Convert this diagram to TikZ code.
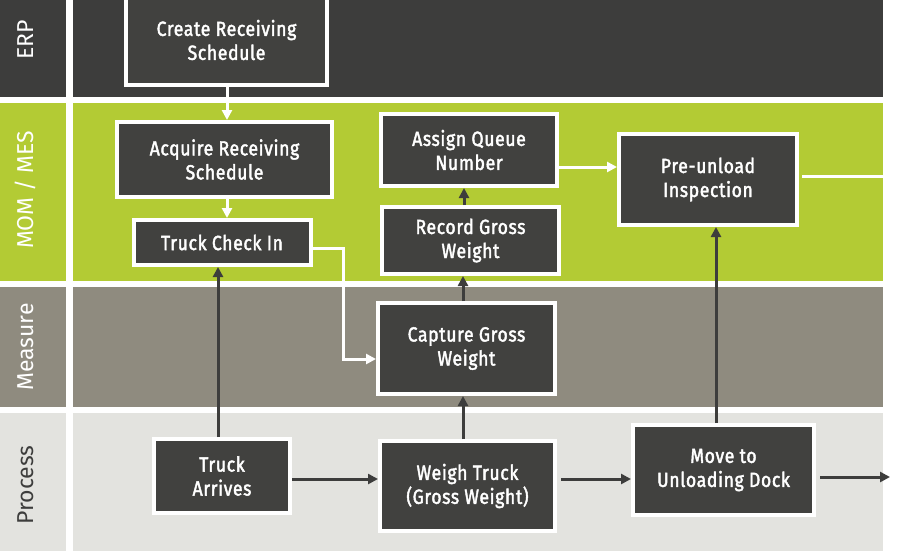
\documentclass[tikz,border=0pt]{standalone}
\usepackage{fontspec}
\setmainfont{Fira Sans}
\newfontfamily\taskfont{Fira Sans}[FakeStretch=0.86, FakeBold=2, LetterSpace=3]
\usetikzlibrary{arrows.meta}
\definecolor{erpdark}{HTML}{3D3D3C}
\definecolor{taskfill}{HTML}{41413F}
\definecolor{mesgreen}{HTML}{B3CB34}
\definecolor{measuregrey}{HTML}{8F8B7F}
\definecolor{processgrey}{HTML}{E3E3DF}
\tikzstyle{task} = [rectangle, fill=taskfill, draw=white, line width=4pt,
text=white, align=center, inner sep=0pt,
font=\taskfont\fontsize{20.5}{24}\selectfont]
\tikzstyle{lanelabel} = [rotate=90, anchor=base, inner sep=0pt,
font=\fontsize{23}{26}\selectfont]
\tikzstyle{flow} = [draw=erpdark, line width=3pt, ->]
\tikzstyle{feed} = [draw=white, line width=3pt, ->]
\tikzset{>={Triangle[length=10pt,width=10pt]}}

\begin{document}
\begin{tikzpicture}[x=1pt,y=-1pt]
	\clip (0,0) rectangle (900,550);
	\fill[white] (0,0) rectangle (900,550);
	% lanes
	\fill[erpdark] (0,-20) rectangle (66,97);
	\fill[erpdark] (72.5,-20) rectangle (883,97);
	\fill[mesgreen] (0,103) rectangle (66,281);
	\fill[mesgreen] (72.5,103) rectangle (883,281);
	\fill[measuregrey] (0,287) rectangle (66,407);
	\fill[measuregrey] (72.5,287) rectangle (883,407);
	\fill[processgrey] (0,413) rectangle (66,560);
	\fill[processgrey] (72.5,413) rectangle (883,560);

	\node[lanelabel, text=white] (erp) at (33,40) {ERP};
	\node[lanelabel, text=white] (mes) at (33,190) {MOM / MES};
	\node[lanelabel, text=white] (meas) at (33,347) {Measure};
	\node[lanelabel, text=erpdark] (proc) at (33,485) {Process};

	% steps
	\node[task, minimum width=201pt, minimum height=90pt] (create) at (226.5,40) {Create Receiving\\Schedule};
	\node[task, minimum width=215pt, minimum height=75pt] (acq) at (224.5,159.5) {Acquire Receiving\\Schedule};
	\node[task, minimum width=177pt, minimum height=45pt] (checkin) at (222,242.5) {Truck Check In};
	\node[task, minimum width=136pt, minimum height=74pt] (arrives) at (222,476) {Truck\\Arrives};
	\node[task, minimum width=175pt, minimum height=90pt] (weigh) at (467.5,486) {Weigh Truck\\(Gross Weight)};
	\node[task, minimum width=177pt, minimum height=91pt] (capture) at (466.5,348.5) {Capture Gross\\Weight};
	\node[task, minimum width=177pt, minimum height=67pt] (record) at (470.5,240.5) {Record Gross\\Weight};
	\node[task, minimum width=176pt, minimum height=72pt] (assign) at (469,150) {Assign Queue\\Number};
	\node[task, minimum width=178pt, minimum height=91pt] (preunload) at (708,179.5) {Pre-unload\\Inspection};
	\node[task, minimum width=181pt, minimum height=90pt] (move) at (723.5,470) {Move to\\Unloading Dock};

	% connectors
	\coordinate (c1) at ([xshift=0.5pt]create.south);
	\draw[feed] (c1) -- (c1 |- acq.north);
	\coordinate (c2) at ([xshift=2.5pt]acq.south);
	\draw[feed] (c2) -- (c2 |- checkin.north);
	\coordinate (c3) at ([xshift=-4pt]arrives.north);
	\draw[flow] (c3) -- (c3 |- checkin.south);
	\coordinate (c4) at ([yshift=-5.5pt]checkin.east);
	\coordinate (c5) at ([yshift=-10.5pt]capture.west);
	\draw[feed] (c4) -- ++(31,0) |- (c5);
	\coordinate (c6) at ([yshift=-3pt]arrives.east);
	\draw[flow] (c6) -- (c6 -| weigh.west);
	\coordinate (c7) at ([xshift=-4.5pt]weigh.north);
	\draw[flow] (c7) -- (c7 |- capture.south);
	\coordinate (c8) at ([xshift=-3.5pt]capture.north);
	\draw[flow] (c8) -- (c8 |- record.south);
	\coordinate (c9) at ([xshift=-6.5pt]record.north);
	\draw[flow] (c9) -- (c9 |- assign.south);
	\coordinate (c10) at ([yshift=-17pt]assign.east);
	\draw[feed] (c10) -- (c10 -| preunload.west);
	\coordinate (c11) at ([yshift=3.5pt]preunload.east);
	\coordinate (mesend) at (883,176);
	\draw[feed, -, shorten <=3pt] (c11) -- (mesend);
	\coordinate (c12) at ([yshift=7pt]weigh.east);
	\draw[flow, shorten <=4pt] (c12) -- (c12 -| move.west);
	\coordinate (c13) at ([xshift=-7.5pt]move.north);
	\draw[flow] (c13) -- (c13 |- preunload.south);
	\coordinate (c14) at ([yshift=-7pt]move.east);
	\coordinate (exit) at (890,477);
	\draw[flow, shorten <=4pt] (c14) -- (exit);
\end{tikzpicture}
\end{document}
